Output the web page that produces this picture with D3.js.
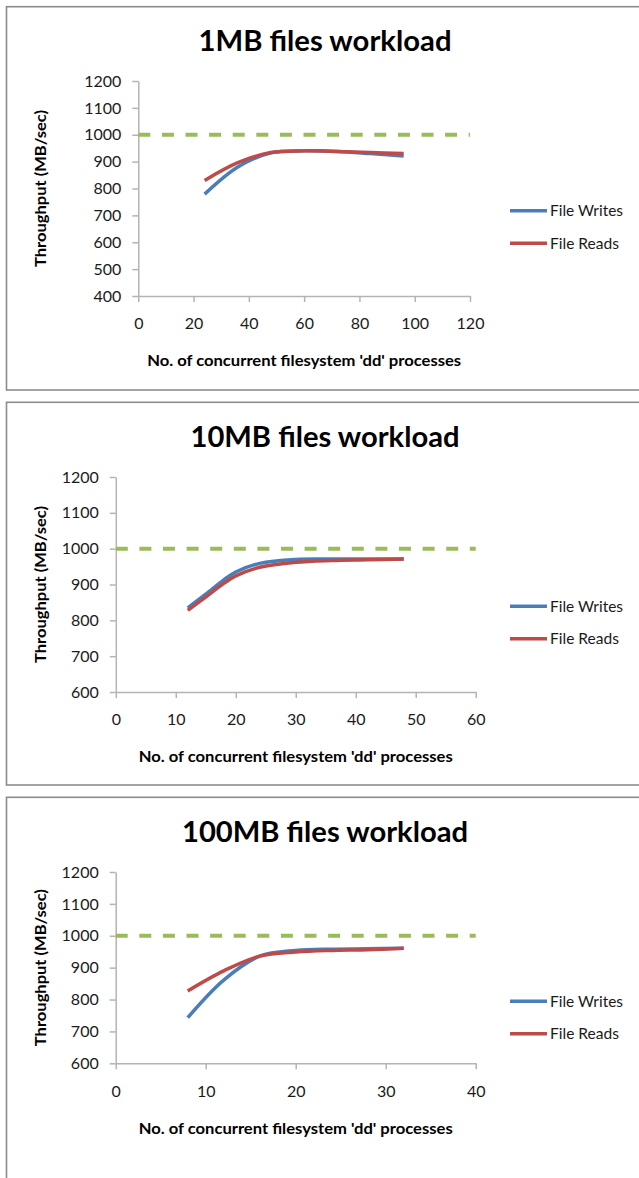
<!DOCTYPE html>
<html>
<head>
<meta charset="utf-8">
<script src="https://cdn.jsdelivr.net/npm/d3@7"></script>
<style>
  html, body { margin: 0; padding: 0; background: #ffffff; }
  svg { display: block; }
  text { font-family: Lato, "Open Sans", "DejaVu Sans", sans-serif; }
</style>
</head>
<body>
<svg id="chart" width="639" height="1178"></svg>
<script>
// ---- data ---------------------------------------------------------------
const seriesNames = ["File Writes", "File Reads"];
const yAxisTitle = "Throughput (MB/sec)";
const xAxisTitle = "No. of concurrent filesystem 'dd' processes";
const maxThroughput = 1000;

// 1MB files
const title1MB = "1MB files workload";
const processes1MB = [24, 36, 48, 60, 72, 84, 96];
const writes1MB = [779, 880, 933, 940, 938, 930, 921];
const reads1MB  = [830, 896, 934, 940, 938, 934, 930];
const xTicks1MB = [0, 20, 40, 60, 80, 100, 120];
const yTicks1MB = [400, 500, 600, 700, 800, 900, 1000, 1100, 1200];

// 10MB files
const title10MB = "10MB files workload";
const processes10MB = [12, 15, 18, 20, 24, 30, 36, 42, 48];
const writes10MB = [835, 873, 913, 935, 959, 970, 971, 971, 971];
const reads10MB  = [828, 865, 903, 924, 948, 962, 967, 969, 971];
const xTicks10MB = [0, 10, 20, 30, 40, 50, 60];
const yTicks10MB = [600, 700, 800, 900, 1000, 1100, 1200];

// 100MB files
const title100MB = "100MB files workload";
const processes100MB = [8, 12, 16, 20, 24, 28, 32];
const writes100MB = [743, 861, 936, 954, 958, 959, 961];
const reads100MB  = [827, 890, 936, 949, 954, 956, 961];
const xTicks100MB = [0, 10, 20, 30, 40];
const yTicks100MB = [600, 700, 800, 900, 1000, 1100, 1200];

// ---- layout -------------------------------------------------------------
const colors = { writes: "#4A7EBB", reads: "#BE4B48", limit: "#9BBB59" };

const panels = [
  { top: 6.7, bottom: 390, left: 138.3, right: 470, plotTop: 74.3, plotBottom: 289.3,
    title: title1MB, titleWidth: 253, xs: processes1MB, writes: writes1MB, reads: reads1MB,
    xTicks: xTicks1MB, yTicks: yTicks1MB },
  { top: 402.3, bottom: 785, left: 115.8, right: 475.7, plotTop: 74.7, plotBottom: 289.7,
    title: title10MB, titleWidth: 269, xs: processes10MB, writes: writes10MB, reads: reads10MB,
    xTicks: xTicks10MB, yTicks: yTicks10MB },
  { top: 797.3, bottom: 1200, left: 115.7, right: 475.7, plotTop: 74.7, plotBottom: 266,
    title: title100MB, titleWidth: 286, xs: processes100MB, writes: writes100MB, reads: reads100MB,
    xTicks: xTicks100MB, yTicks: yTicks100MB }
];

const svg = d3.select("#chart");
const fmt = d3.format("d");

panels.forEach(p => {
  const g = svg.append("g").attr("transform", `translate(0,${p.top})`);

  // chart area frame
  g.append("rect")
    .attr("x", 6.5).attr("y", 0)
    .attr("width", 700).attr("height", p.bottom - p.top)
    .attr("fill", "#fff").attr("stroke", "#8c8c8c").attr("stroke-width", 1.6);

  const x = d3.scaleLinear()
    .domain([p.xTicks[0], p.xTicks[p.xTicks.length - 1]])
    .range([p.left, p.right]);
  const y = d3.scaleLinear()
    .domain([p.yTicks[0], p.yTicks[p.yTicks.length - 1]])
    .range([p.plotBottom, p.plotTop]);

  // title
  g.append("text")
    .attr("x", 325).attr("y", 44.5)
    .attr("text-anchor", "middle")
    .attr("font-size", 28).attr("font-weight", "bold").attr("fill", "#000")
    .attr("textLength", p.titleWidth).attr("lengthAdjust", "spacingAndGlyphs")
    .text(p.title);

  // y axis
  const yAxis = g.append("g")
    .attr("transform", `translate(${p.left},0)`)
    .call(d3.axisLeft(y).tickValues(p.yTicks).tickFormat(fmt)
      .tickSize(6).tickSizeOuter(0).tickPadding(11));
  // x axis
  const xAxis = g.append("g")
    .attr("transform", `translate(0,${p.plotBottom})`)
    .call(d3.axisBottom(x).tickValues(p.xTicks).tickFormat(fmt)
      .tickSize(6).tickSizeOuter(0).tickPadding(16));

  [yAxis, xAxis].forEach(ax => {
    ax.select(".domain").attr("stroke", "#b4b4b4").attr("stroke-width", 1.5);
    ax.selectAll(".tick line").attr("stroke", "#b4b4b4").attr("stroke-width", 1.5);
    ax.selectAll(".tick text")
      .attr("font-size", 16).attr("fill", "#1a1a1a")
      .style("font-family", "Lato, 'Open Sans', sans-serif");
  });
  xAxis.selectAll(".tick text").attr("dy", "0.71em");

  // axis titles
  g.append("text")
    .attr("transform", `translate(45.5,${(p.plotTop + p.plotBottom) / 2}) rotate(-90)`)
    .attr("text-anchor", "middle")
    .attr("font-size", 16).attr("font-weight", "bold").attr("fill", "#000")
    .attr("textLength", 157).attr("lengthAdjust", "spacingAndGlyphs")
    .text(yAxisTitle);

  g.append("text")
    .attr("x", (p.left + p.right) / 2).attr("y", p.plotBottom + 70.5)
    .attr("text-anchor", "middle")
    .attr("font-size", 16).attr("font-weight", "bold").attr("fill", "#000")
    .attr("textLength", 314).attr("lengthAdjust", "spacingAndGlyphs")
    .text(xAxisTitle);

  // 1000 MB/s reference
  const limitData = [
    { x: p.xTicks[0], y: maxThroughput },
    { x: p.xTicks[p.xTicks.length - 1], y: maxThroughput }
  ];
  g.append("path")
    .datum(limitData)
    .attr("fill", "none")
    .attr("stroke", colors.limit).attr("stroke-width", 4)
    .attr("stroke-dasharray", "12 11.6")
    .attr("d", d3.line().x(d => x(d.x)).y(d => y(d.y)));

  // series
  const line = d3.line()
    .x(d => x(d.x)).y(d => y(d.y))
    .curve(d3.curveCatmullRom.alpha(0.5));

  const series = [
    { key: "writes", name: seriesNames[0], values: p.writes, width: 73 },
    { key: "reads", name: seriesNames[1], values: p.reads, width: 69 }
  ];
  series.forEach(s => {
    g.append("path")
      .datum(p.xs.map((xv, i) => ({ x: xv, y: s.values[i] })))
      .attr("fill", "none")
      .attr("stroke", colors[s.key]).attr("stroke-width", 3.5)
      .attr("stroke-linejoin", "round").attr("stroke-linecap", "butt")
      .attr("d", line);
  });

  // legend
  const legend = g.append("g");
  series.forEach((s, i) => {
    const ly = 204 + i * 32.5;
    legend.append("line")
      .attr("x1", 510).attr("x2", 547).attr("y1", ly).attr("y2", ly)
      .attr("stroke", colors[s.key]).attr("stroke-width", 3.5);
    legend.append("text")
      .attr("x", 550).attr("y", ly + 5.5)
      .attr("font-size", 15).attr("fill", "#1a1a1a")
      .attr("textLength", s.width).attr("lengthAdjust", "spacingAndGlyphs")
      .text(s.name);
  });
});
</script>
</body>
</html>
